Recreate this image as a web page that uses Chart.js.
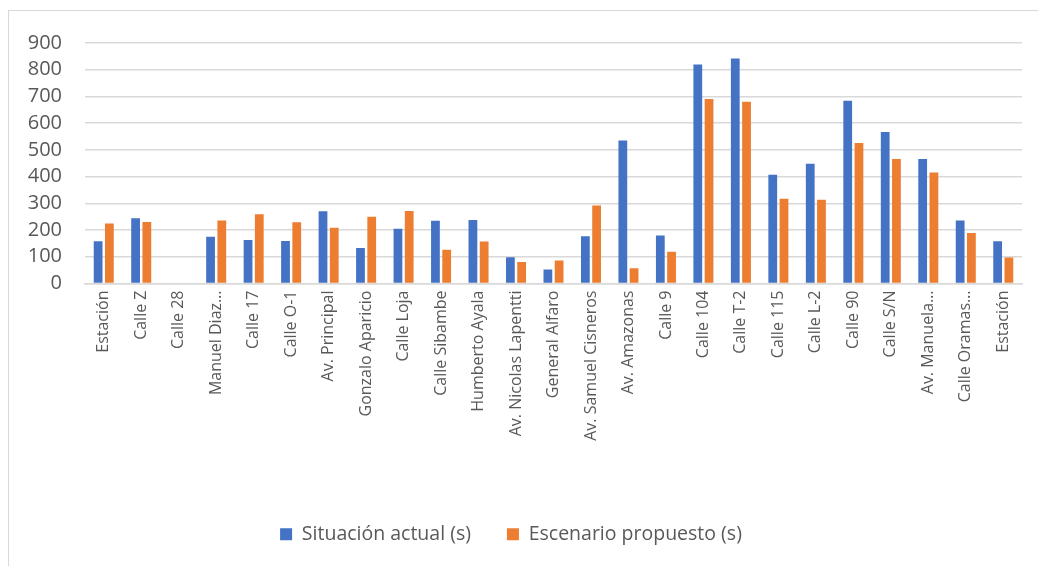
<!DOCTYPE html>
<html>
<head>
<meta charset="utf-8">
<script src="https://cdn.jsdelivr.net/npm/chart.js@4.4.0/dist/chart.umd.min.js"></script>
<style>
  html, body { margin: 0; padding: 0; background: #fff; }
  #wrap { position: relative; width: 1038px; height: 566px; overflow: hidden; }
  #frame { position: absolute; left: 8px; top: 10px; width: 1040px; height: 570px; border: 1px solid #d9d9d9; box-sizing: border-box; }
  canvas { position: absolute; left: 0; top: 0; }
</style>
</head>
<body>
<div id="wrap">
  <div id="frame"></div>
  <canvas id="chart" width="1038" height="566"></canvas>
</div>
<script>
// paradas
const categorias = [
  'Estación', 'Calle Z', 'Calle 28', 'Manuel Diaz…', 'Calle 17', 'Calle O-1',
  'Av. Principal', 'Gonzalo Aparicio', 'Calle Loja', 'Calle Sibambe', 'Humberto Ayala',
  'Av. Nicolas Lapentti', 'General Alfaro', 'Av. Samuel Cisneros', 'Av. Amazonas',
  'Calle 9', 'Calle 104', 'Calle T-2', 'Calle 115', 'Calle L-2', 'Calle 90',
  'Calle S/N', 'Av. Manuela…', 'Calle Oramas…', 'Estación'
];
const situacionActual = [158, 244, 0, 175, 163, 159, 270, 133, 205, 235, 238, 98, 52, 177, 535, 180, 820, 842, 407, 448, 684, 567, 466, 236, 158];
const escenarioPropuesto = [225, 230, 0, 236, 259, 229, 209, 250, 271, 126, 157, 80, 86, 292, 57, 119, 690, 680, 317, 313, 526, 466, 415, 189, 97];
const ticksY = [0, 100, 200, 300, 400, 500, 600, 700, 800, 900];

const gris = '#595959';
const fuente = 'Open Sans';

const ctx = document.getElementById('chart').getContext('2d');
new Chart(ctx, {
  type: 'bar',
  data: {
    labels: categorias,
    datasets: [{
      label: 'Situación actual (s)',
      data: situacionActual,
      backgroundColor: '#4472C4',
      barPercentage: 0.78,
      categoryPercentage: 0.6
    }, {
      label: 'Escenario propuesto (s)',
      data: escenarioPropuesto,
      backgroundColor: '#ED7D31',
      barPercentage: 0.78,
      categoryPercentage: 0.6
    }]
  },
  options: {
    responsive: false,
    animation: false,
    layout: { padding: { left: 0, right: 16, top: 43, bottom: 12 } },
    scales: {
      x: {
        grid: { display: false, drawTicks: false },
        border: { color: '#d9d9d9', width: 1.5 },
        ticks: {
          color: gris,
          font: { family: fuente, size: 16 },
          minRotation: 90,
          maxRotation: 90,
          autoSkip: false,
          padding: 7
        },
        afterFit: s => { s.height = 205; }
      },
      y: {
        min: 0,
        max: 900,
        afterBuildTicks: s => { s.ticks = ticksY.map(v => ({ value: v })); },
        grid: { color: '#d9d9d9', lineWidth: 1.5, drawTicks: false },
        border: { display: false },
        ticks: {
          color: gris,
          font: { family: fuente, size: 20 },
          padding: 23,
          autoSkip: false
        },
        afterFit: s => { s.width = 85; }
      }
    },
    plugins: {
      legend: {
        position: 'bottom',
        labels: {
          color: gris,
          font: { family: fuente, size: 19.5 },
          boxWidth: 12,
          boxHeight: 12,
          padding: 36
        }
      },
      tooltip: { enabled: false }
    }
  }
});
</script>
</body>
</html>
